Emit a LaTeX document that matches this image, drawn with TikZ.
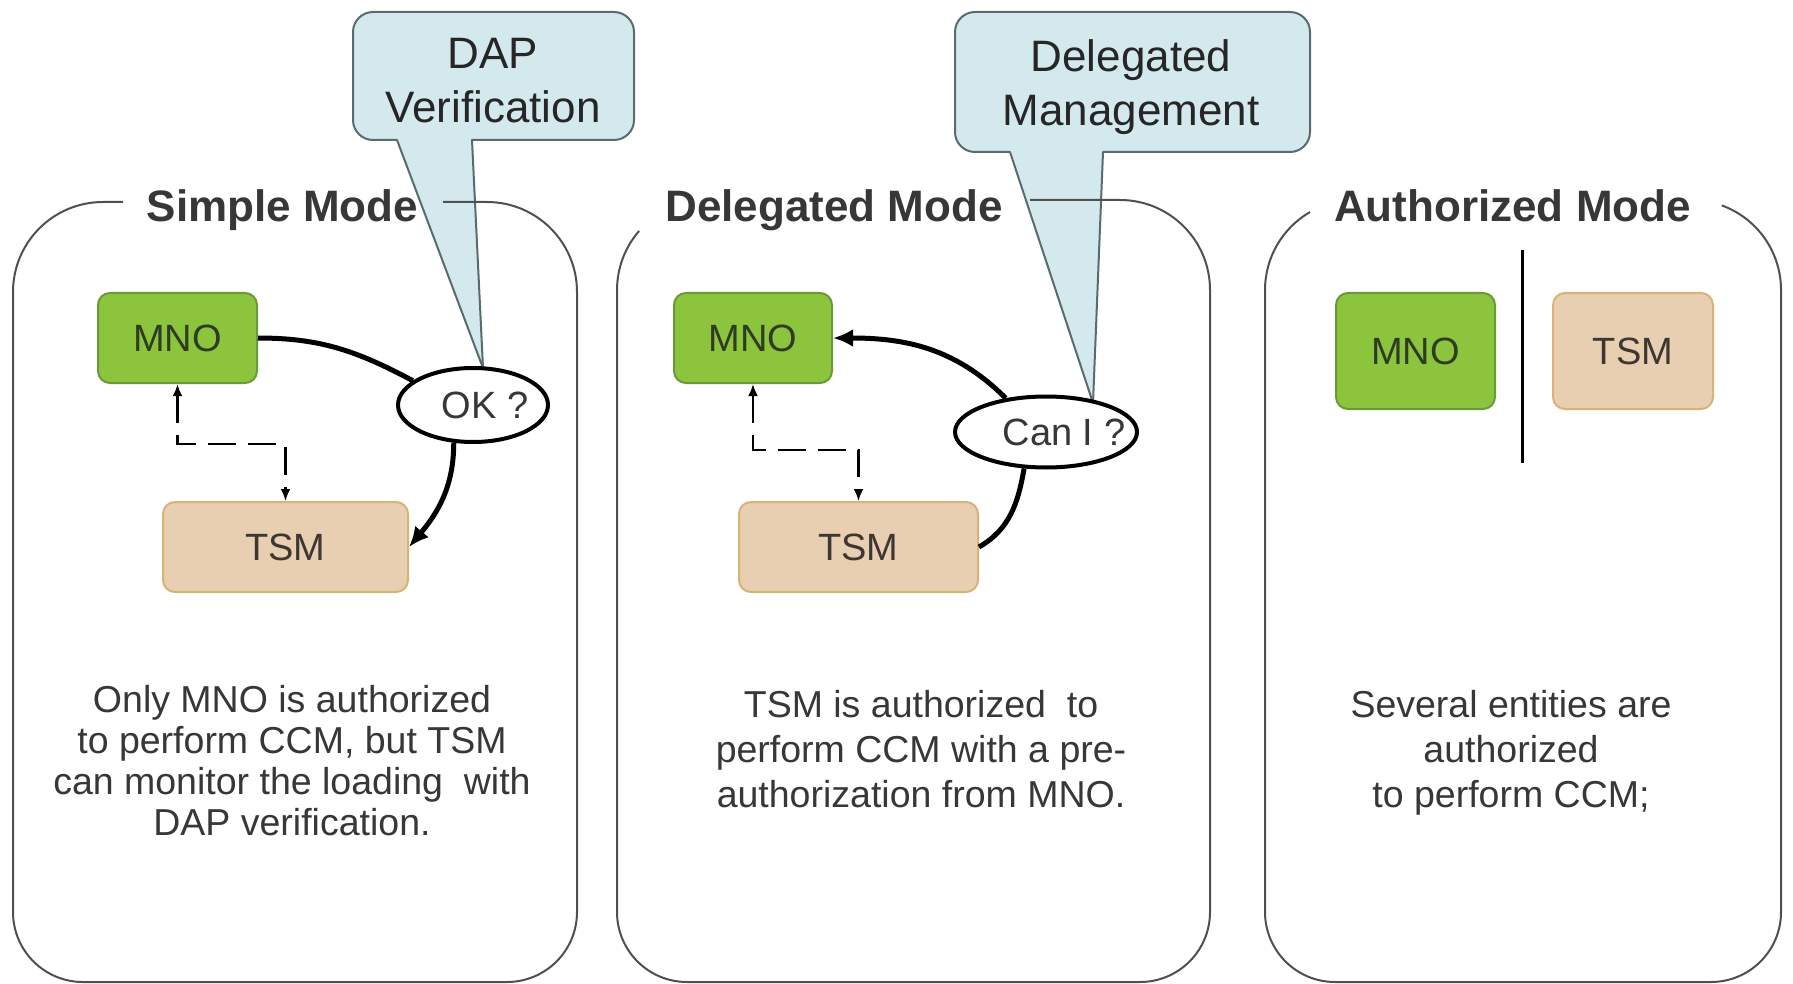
\documentclass[tikz,border=0pt]{standalone}
\usepackage{fontspec}
\setmainfont{Liberation Sans}
\usetikzlibrary{arrows.meta,shapes.geometric}
\definecolor{mnofill}{RGB}{141,196,62}
\definecolor{mnodraw}{RGB}{104,154,58}
\definecolor{tsmfill}{RGB}{232,207,178}
\definecolor{tsmdraw}{RGB}{214,180,120}
\definecolor{callfill}{RGB}{211,233,237}
\definecolor{calldraw}{RGB}{88,108,112}
\definecolor{panelline}{RGB}{80,80,80}
\definecolor{txt}{RGB}{55,55,55}
\definecolor{mnotxt}{RGB}{45,60,35}
\definecolor{tsmtxt}{RGB}{62,54,48}
\begin{document}
\begin{tikzpicture}[x=0.5pt,y=-0.5pt,
  panel/.style={draw=panelline,line width=1pt},
  callout/.style={draw=calldraw,fill=callfill,line width=1pt,line join=round},
  calltext/.style={font=\fontsize{22}{27}\selectfont,text=black!85,align=center,inner sep=0pt},
  title/.style={font=\fontsize{22}{22}\selectfont\bfseries,text=txt,anchor=base,inner sep=0pt},
  mnobox/.style={draw=mnodraw,fill=mnofill,line width=1pt,rounded corners=6pt,text=mnotxt,font=\fontsize{19}{19}\selectfont,inner sep=0pt},
  tsmbox/.style={draw=tsmdraw,fill=tsmfill,line width=1pt,rounded corners=6pt,text=tsmtxt,font=\fontsize{19}{19}\selectfont,inner sep=0pt},
  bubble/.style={ellipse,draw=black,fill=white,line width=2pt,inner sep=0pt},
  bubbletext/.style={font=\fontsize{19}{19}\selectfont,text=txt,inner sep=0pt},
  flow/.style={line width=2.5pt,draw=black},
  flowtip/.style={flow,-{Latex[length=10pt,width=9pt]}},
  monitor/.style={line width=1.2pt,dash pattern=on 14pt off 6pt,{Latex[length=6pt,width=5pt]}-{Latex[length=6pt,width=5pt]}},
  desc/.style={text=txt,align=center,inner sep=0pt},
]
\fill[white] (0,0) rectangle (1793,984);
\useasboundingbox (0,0) rectangle (1793,984);

% callouts
\draw[callout] (483,368) -- (472,140) -- (614,140) arc[start angle=270,end angle=360,radius=10pt]
  -- (634,32) arc[start angle=0,end angle=90,radius=10pt]
  -- (373,12) arc[start angle=90,end angle=180,radius=10pt]
  -- (353,120) arc[start angle=180,end angle=270,radius=10pt]
  -- (397,140) -- cycle;
\draw[callout] (1093,403) -- (1103,152) -- (1290,152) arc[start angle=270,end angle=360,radius=10pt]
  -- (1310,32) arc[start angle=0,end angle=90,radius=10pt]
  -- (975,12) arc[start angle=90,end angle=180,radius=10pt]
  -- (955,132) arc[start angle=180,end angle=270,radius=10pt]
  -- (1010,152) -- cycle;
\node[calltext] (dapText) at (493,81) {DAP\\Verification};
\node[calltext] (dmText) at (1131,87) {Delegated\\Management};

% panels
\draw[panel] (123,202) [rounded corners=45pt] -- (13,202) -- (13,600) [rounded corners=35pt] -- (13,982) -- (577,982) -- (577,600) [rounded corners=45pt] -- (577,202) -- (443,202);
\draw[panel] (639.1,230.95) arc[start angle=139, end angle=180, radius=45pt] -- (617,600) [rounded corners=35pt] -- (617,982) -- (1210,982) -- (1210,600) [rounded corners=45pt] -- (1210,200) -- (1030,200);
\draw[panel] (1310,212.06) arc[start angle=120, end angle=180, radius=45pt] -- (1265,600) [rounded corners=35pt] -- (1265,982) -- (1781,982) -- (1781,600) [sharp corners] -- (1781,290) arc[start angle=0, end angle=70, radius=45pt];

% titles
\node[title] (titleA) at (282.5,222) {Simple Mode};
\node[title] (titleB) at (834,222) {Delegated Mode};
\node[title] (titleC) at (1512.5,222) {Authorized Mode};

% simple mode
\node[mnobox, minimum width=79.5pt, minimum height=45pt] (mnoA) at (177.5,338) {MNO};
\node[tsmbox, minimum width=122.5pt, minimum height=45pt] (tsmA) at (285.5,547) {TSM};
\node[bubble, minimum width=75pt, minimum height=37pt] (okA) at (473,405) {};
\node[bubbletext] (okText) at ([xshift=6pt]okA.center) {OK ?};
\draw[flow] (mnoA.east) to[out=0,in=152] (okA.158);
\draw[flowtip] (okA.243) to[out=-90,in=50] (tsmA.east);
\draw[monitor] (mnoA.south) -- ++(0,60) -| (tsmA.north);

% delegated mode
\node[mnobox, minimum width=79pt, minimum height=45pt] (mnoB) at (753,338) {MNO};
\node[tsmbox, minimum width=119.5pt, minimum height=45pt] (tsmB) at (858.5,547) {TSM};
\node[bubble, minimum width=91pt, minimum height=35.5pt] (canB) at (1046,432) {};
\node[bubbletext] (canText) at ([xshift=9pt]canB.center) {Can I ?};
\draw[flowtip] (canB.140) to[out=135,in=0] (mnoB.east);
\draw[flow] (canB.239) to[out=-100,in=30] (tsmB.east);
\draw[monitor] (mnoB.south) -- ++(0,66) -| (tsmB.north);

% authorized mode
\node[mnobox, minimum width=79.5pt, minimum height=58pt] (mnoC) at (1415.5,351) {MNO};
\node[tsmbox, minimum width=80pt, minimum height=58pt] (tsmC) at (1633,351) {TSM};
\coordinate (sepTop) at (1522,250);
\coordinate (sepBot) at (1522,463);
\draw[line width=1.5pt] (sepTop) -- (sepBot);

% descriptions
\node[desc, font=\fontsize{18.75}{20.5}\selectfont] (descA) at (292,760.5) {Only MNO is authorized\\to perform CCM, but TSM\\can monitor the loading\ \ with\\DAP verification.};
\node[desc, font=\fontsize{18.75}{22.5}\selectfont] (descB) at (921,749) {TSM is authorized\ \ to\\perform CCM with a pre-\\authorization from MNO.};
\node[desc, font=\fontsize{18.75}{22.5}\selectfont] (descC) at (1511,753) {Several entities are\\authorized\\to perform CCM;};
\end{tikzpicture}
\end{document}
